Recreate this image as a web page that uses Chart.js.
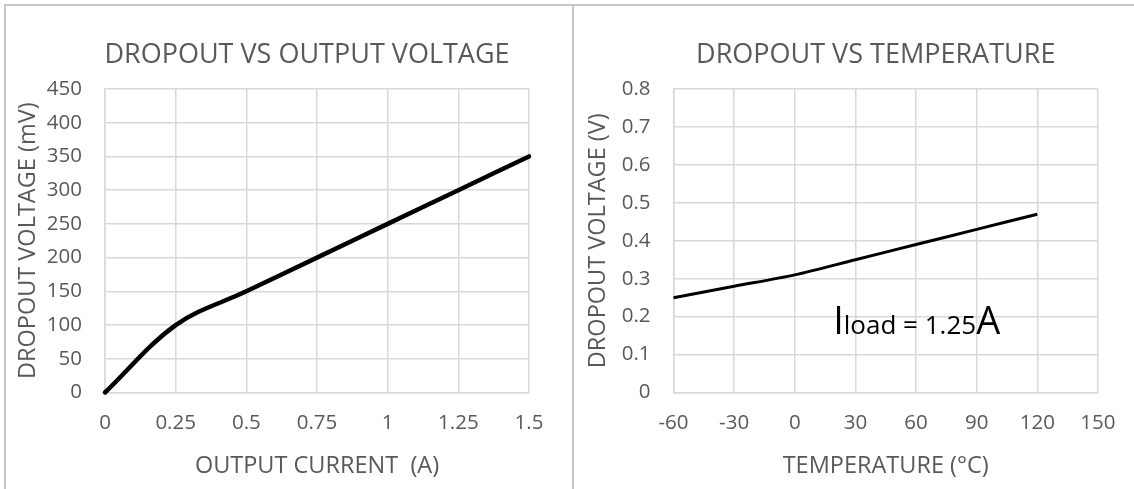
<!DOCTYPE html>
<html><head><meta charset="utf-8">
<script src="https://cdn.jsdelivr.net/npm/chart.js@4.4.1/dist/chart.umd.min.js"></script>
<style>
html,body{margin:0;padding:0;background:#fff;overflow:hidden;width:1134px;height:489px}
#wrap{position:relative;width:1134px;height:489px;overflow:hidden;background:#fff}
canvas{position:absolute;top:0}
#c1{left:0}
#c2{left:572px}
.ln{position:absolute;background:#c6c6c6;z-index:5}
</style></head>
<body>
<div id="wrap">
  <canvas id="c1" width="572" height="489"></canvas>
  <canvas id="c2" width="562" height="489"></canvas>
  <div class="ln" style="left:4px;top:4px;width:1130px;height:2px"></div>
  <div class="ln" style="left:4px;top:4px;width:2px;height:485px"></div>
  <div class="ln" style="left:572px;top:4px;width:2px;height:485px"></div>
</div>
<script>
// ---- data ----
const currentA = [0, 0.25, 0.5, 0.75, 1, 1.25, 1.5];
const dropoutMv = [0, 100, 150, 200, 250, 300, 350];
const currentTickLabels = ['0', '0.25', '0.5', '0.75', '1', '1.25', '1.5'];
const mvTickLabels = ['0', '50', '100', '150', '200', '250', '300', '350', '400', '450'];

const temperatureC = [-60, -30, 0, 30, 60, 90, 120];
const dropoutV = [0.25, 0.28, 0.31, 0.35, 0.39, 0.43, 0.47];
const tempTickLabels = ['-60', '-30', '0', '30', '60', '90', '120', '150'];
const vTickLabels = ['0', '0.1', '0.2', '0.3', '0.4', '0.5', '0.6', '0.7', '0.8'];

const titleLeft = 'DROPOUT VS OUTPUT VOLTAGE';
const titleRight = 'DROPOUT VS TEMPERATURE';
const annotation = { big1: 'I', small: 'load = 1.25', big2: 'A', x: 19, y: 0.154 };

// ---- style ----
const FONT = '"Open Sans", "DejaVu Sans", sans-serif';
const GREY = '#595959';
const GRID = '#d9d9d9';

const titlePlugin = {
  id: 'chartTitle',
  afterDraw(chart, args, opts) {
    const { ctx, chartArea } = chart;
    ctx.save();
    ctx.fillStyle = GREY;
    ctx.font = '27px ' + FONT;
    ctx.textAlign = 'center';
    ctx.textBaseline = 'middle';
    ctx.fillText(opts.text, (chartArea.left + chartArea.right) / 2 - 10, 55);
    ctx.restore();
  }
};

function makeOptions(cfg) {
  return {
    responsive: false,
    animation: false,
    devicePixelRatio: 1,
    layout: { padding: { left: 0, right: cfg.padRight, top: 89, bottom: 0 } },
    plugins: {
      legend: { display: false },
      tooltip: { enabled: false },
      title: { display: false },
      chartTitle: { text: cfg.title }
    },
    scales: {
      x: {
        type: 'linear', min: cfg.xMin, max: cfg.xMax,
        afterFit: s => { s.height = 96.5; },
        afterBuildTicks: s => { s.ticks = cfg.xLabels.map((_, i) => ({ value: cfg.xMin + i * cfg.xStep })); },
        ticks: {
          color: GREY, padding: 18.5, autoSkip: false, maxRotation: 0,
          font: { family: FONT, size: 20.5 },
          callback: (v, i) => cfg.xLabels[i]
        },
        grid: { color: GRID, lineWidth: 1.5, drawTicks: false },
        border: { color: GRID, width: 1.5 },
        title: {
          display: true, text: cfg.xTitle, color: GREY,
          font: { family: FONT, size: 23.5 }, padding: { top: 0, bottom: 9 }
        }
      },
      y: {
        type: 'linear', min: cfg.yMin, max: cfg.yMax,
        afterFit: s => { s.width = cfg.yWidth; },
        afterBuildTicks: s => { s.ticks = cfg.yLabels.map((_, i) => ({ value: cfg.yMin + i * cfg.yStep })); },
        ticks: {
          color: GREY, padding: 23, autoSkip: false,
          font: { family: FONT, size: 20.5 },
          callback: (v, i) => cfg.yLabels[i]
        },
        grid: { color: GRID, lineWidth: 1.5, drawTicks: false },
        border: { color: GRID, width: 1.5 },
        title: {
          display: true, text: cfg.yTitle, color: GREY,
          font: { family: FONT, size: 23.5 }, padding: { top: cfg.yTitlePad, bottom: 0 }
        }
      }
    }
  };
}

const annotPlugin = {
  id: 'annot',
  afterDatasetsDraw(chart) {
    const { ctx, scales: { x, y } } = chart;
    const px = x.getPixelForValue(annotation.x);
    const py = y.getPixelForValue(annotation.y);
    ctx.save();
    ctx.fillStyle = '#000';
    ctx.textBaseline = 'alphabetic';
    ctx.textAlign = 'left';
    ctx.font = '38px ' + FONT;
    ctx.fillText(annotation.big1, px, py);
    let w = ctx.measureText(annotation.big1).width;
    ctx.font = '26px ' + FONT;
    ctx.fillText(annotation.small, px + w, py);
    w += ctx.measureText(annotation.small).width;
    ctx.font = '38px ' + FONT;
    ctx.fillText(annotation.big2, px + w, py);
    ctx.restore();
  }
};

new Chart(document.getElementById('c1'), {
  type: 'line',
  data: {
    datasets: [{
      data: currentA.map((v, i) => ({ x: v, y: dropoutMv[i] })),
      borderColor: '#000', borderWidth: 4.5, pointRadius: 0, tension: 0.35,
      fill: false, clip: false, borderCapStyle: 'round'
    }]
  },
  options: makeOptions({
    title: titleLeft, padRight: 572 - 529,
    xMin: 0, xMax: 1.5, xStep: 0.25, xLabels: currentTickLabels, xTitle: 'OUTPUT CURRENT  (A)',
    yMin: 0, yMax: 450, yStep: 50, yLabels: mvTickLabels, yTitle: 'DROPOUT VOLTAGE (mV)',
    yWidth: 105, yTitlePad: 14
  }),
  plugins: [titlePlugin]
});

new Chart(document.getElementById('c2'), {
  type: 'line',
  data: {
    datasets: [{
      data: temperatureC.map((v, i) => ({ x: v, y: dropoutV[i] })),
      borderColor: '#000', borderWidth: 3, pointRadius: 0, tension: 0.3,
      fill: false, clip: false
    }]
  },
  options: makeOptions({
    title: titleRight, padRight: 562 - 528.7,
    xMin: -60, xMax: 150, xStep: 30, xLabels: tempTickLabels, xTitle: 'TEMPERATURE (°C)',
    yMin: 0, yMax: 0.8, yStep: 0.1, yLabels: vTickLabels, yTitle: 'DROPOUT VOLTAGE (V)',
    yWidth: 101.5, yTitlePad: 12.5
  }),
  plugins: [annotPlugin, titlePlugin]
});
</script>
</body></html>
